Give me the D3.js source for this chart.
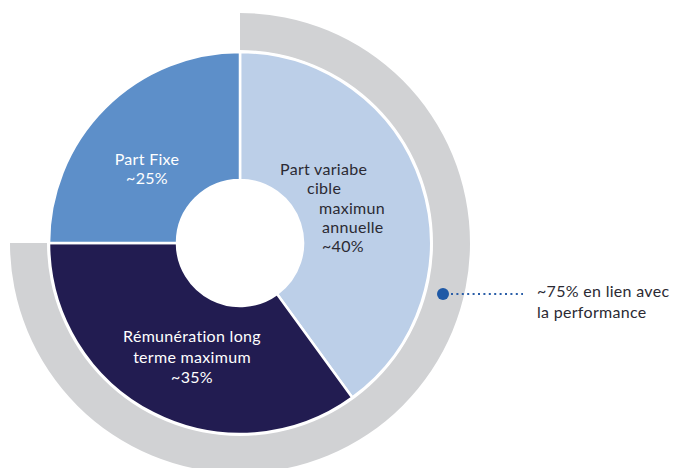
<!DOCTYPE html>
<html>
<head>
<meta charset="utf-8">
<script src="https://cdn.jsdelivr.net/npm/d3@7"></script>
<style>
  html, body { margin: 0; padding: 0; background: #ffffff; }
  svg { display: block; font-family: Lato, "Open Sans", sans-serif; }
</style>
</head>
<body>
<svg id="chart" width="683" height="468"></svg>
<script>
// Composition of the remuneration package (share of total, %)
const categories = ["Part variabe cible maximun annuelle", "Rémunération long terme maximum", "Part Fixe"];
const values = [40, 35, 25];
const colors = ["#bccfe8", "#221c51", "#5d8fc9"];
const textColors = ["#2b2a33", "#ffffff", "#ffffff"];

// Label lines drawn inside each slice
const labelLines = [
  ["Part variabe", "cible", "maximun", "annuelle", "~40%"],
  ["Rémunération long", "terme maximum", "~35%"],
  ["Part Fixe", "~25%"]
];

// Outer ring: share linked to performance
const performanceShare = 75;
const performanceLabel = ["~75% en lien avec", "la performance"];

const svg = d3.select("#chart");
const cx = 240, cy = 243;
const innerR = 63, outerR = 191;
const ringInner = 193, ringOuter = 230;
const fontSize = 16;

const g = svg.append("g").attr("transform", `translate(${cx},${cy})`);

// Outer performance ring, starting at 12 o'clock, clockwise
const ringScale = d3.scaleLinear().domain([0, 100]).range([0, 2 * Math.PI]);
g.append("path")
  .attr("d", d3.arc()
    .innerRadius(ringInner)
    .outerRadius(ringOuter)
    .startAngle(ringScale(0))
    .endAngle(ringScale(performanceShare))())
  .attr("fill", "#d1d2d4");

// Donut slices
const pie = d3.pie().sort(null).value(d => d)(values);
const arc = d3.arc().innerRadius(innerR).outerRadius(outerR);

g.selectAll("path.slice")
  .data(pie)
  .join("path")
  .attr("class", "slice")
  .attr("d", arc)
  .attr("fill", (d, i) => colors[i])
  .attr("stroke", "#ffffff")
  .attr("stroke-width", 2.5);

// Slice labels
const labelAnchor = [
  { x: 280, y: 175, step: 19.3, offsets: [0, 27, 39, 42, 42], anchor: "start" },
  { x: 192, y: 342, step: 20.5, offsets: [0, 0, 0], anchor: "middle" },
  { x: 147, y: 165, step: 19.3, offsets: [0, 0], anchor: "middle" }
];

labelLines.forEach((lines, i) => {
  const a = labelAnchor[i];
  const t = svg.append("text")
    .attr("fill", textColors[i])
    .attr("font-size", fontSize)
    .attr("letter-spacing", 0.3)
    .attr("text-anchor", a.anchor);
  lines.forEach((line, j) => {
    t.append("tspan")
      .attr("x", a.x + a.offsets[j])
      .attr("y", a.y + j * a.step)
      .text(line);
  });
});

// Callout from the ring to its label
const dotX = 443, dotY = 294;
svg.append("line")
  .attr("x1", dotX + 8).attr("y1", dotY)
  .attr("x2", 523).attr("y2", dotY)
  .attr("stroke", "#2a5ea8")
  .attr("stroke-width", 2)
  .attr("stroke-dasharray", "2,3.4");
svg.append("circle")
  .attr("cx", dotX).attr("cy", dotY).attr("r", 6)
  .attr("fill", "#1f59a6");

const callout = svg.append("text")
  .attr("fill", "#2b2a33")
  .attr("font-size", fontSize)
  .attr("letter-spacing", 0.3);
performanceLabel.forEach((line, j) => {
  callout.append("tspan")
    .attr("x", 537)
    .attr("y", 297 + j * 20.5)
    .text(line);
});
</script>
</body>
</html>
